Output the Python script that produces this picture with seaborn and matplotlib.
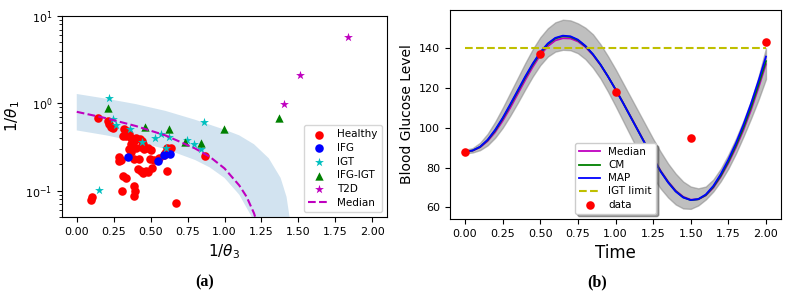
import numpy as np
import seaborn as sns
import matplotlib
matplotlib.use("Agg")
import matplotlib.pyplot as plt

# ---- panel (a): 1/theta3 vs 1/theta1 ----
healthy_x = [0.141, 0.209, 0.22, 0.232, 0.243, 0.322, 0.34, 0.31, 0.334, 0.368, 0.39, 0.425,
             0.443, 0.368, 0.356, 0.368, 0.40, 0.436, 0.48, 0.505, 0.288, 0.30, 0.284, 0.384,
             0.42, 0.497, 0.52, 0.61, 0.64, 0.61, 0.413, 0.436, 0.47, 0.447, 0.48, 0.51,
             0.31, 0.334, 0.307, 0.384, 0.397, 0.384, 0.106, 0.095, 0.675, 0.868, 0.59,
             0.455, 0.40, 0.355, 0.465, 0.60, 0.555, 0.45]
healthy_y = [0.68, 0.63, 0.576, 0.54, 0.52, 0.505, 0.48, 0.424, 0.424, 0.405, 0.372, 0.39,
             0.37, 0.34, 0.30, 0.28, 0.31, 0.318, 0.31, 0.29, 0.24, 0.224, 0.216, 0.23,
             0.23, 0.23, 0.224, 0.306, 0.31, 0.17, 0.177, 0.169, 0.169, 0.158, 0.162, 0.18,
             0.148, 0.14, 0.10, 0.114, 0.10, 0.088, 0.084, 0.079, 0.072, 0.25, 0.257,
             0.30, 0.40, 0.44, 0.31, 0.27, 0.235, 0.345]
ifg_x = [0.345, 0.55, 0.588, 0.63]
ifg_y = [0.244, 0.216, 0.257, 0.264]
igt_x = [0.215, 0.243, 0.266, 0.357, 0.443, 0.53, 0.573, 0.622, 0.602, 0.747, 0.793, 0.838, 0.863, 0.148]
igt_y = [1.14, 0.657, 0.566, 0.505, 0.362, 0.405, 0.45, 0.413, 0.31, 0.38, 0.34, 0.30, 0.617, 0.103]
ifgigt_x = [0.209, 0.463, 0.622, 0.731, 0.838, 0.999, 1.367]
ifgigt_y = [0.877, 0.537, 0.505, 0.365, 0.355, 0.505, 0.675]
t2d_x = [1.40, 1.511, 1.834]
t2d_y = [0.975, 2.1, 5.71]

med_x = [0, 0.2, 0.4, 0.6, 0.8, 0.9, 1.0, 1.1, 1.15, 1.2, 1.22]
med_y = [0.80, 0.675, 0.55, 0.43, 0.305, 0.245, 0.18, 0.115, 0.085, 0.055, 0.043]

band_up_x = [0, 0.2, 0.4, 0.6, 0.8, 1.0, 1.1, 1.2, 1.3, 1.38, 1.42, 1.46]
band_up_y = [1.28, 1.13, 0.98, 0.82, 0.65, 0.50, 0.43, 0.34, 0.235, 0.14, 0.085, 0.03]
band_lo_x = [0, 0.2, 0.4, 0.6, 0.8, 0.9, 1.0, 1.1, 1.2]
band_lo_y = [0.49, 0.43, 0.365, 0.30, 0.225, 0.185, 0.14, 0.09, 0.045]

# ---- panel (b): glucose curves ----
t = [0.0, 0.05, 0.1, 0.15, 0.2, 0.25, 0.3, 0.35, 0.4, 0.45, 0.5, 0.55, 0.6, 0.65, 0.7,
     0.75, 0.8, 0.85, 0.9, 0.95, 1.0, 1.05, 1.1, 1.15, 1.2, 1.25, 1.3, 1.35, 1.4, 1.45,
     1.5, 1.55, 1.6, 1.65, 1.7, 1.75, 1.8, 1.85, 1.9, 1.95, 2.0]
map_vals = [88.0, 88.6, 90.5, 94.0, 99.0, 105.0, 111.8, 118.8, 125.8, 132.3, 138.0, 142.4,
            145.2, 146.3, 146.0, 144.3, 141.2, 137.0, 131.8, 125.8, 119.3, 112.5, 105.5,
            98.5, 91.5, 84.5, 78.0, 72.5, 68.0, 65.0, 63.7, 64.2, 66.5, 70.8, 76.8, 84.0,
            92.2, 101.5, 112.0, 123.5, 135.8]
median_vals = [88.0, 88.5, 90.2, 93.3, 97.8, 103.5, 110.0, 117.0, 124.0, 130.6, 136.5, 141.0,
               143.9, 145.0, 144.9, 143.4, 140.6, 136.6, 131.6, 125.8, 119.4, 112.7, 105.8,
               98.8, 91.8, 85.0, 78.5, 73.0, 68.5, 65.4, 63.9, 64.1, 66.0, 69.8, 75.4, 82.2,
               90.0, 98.8, 108.8, 120.0, 132.0]
cm_vals = [88.0, 88.6, 90.4, 93.8, 98.6, 104.6, 111.3, 118.3, 125.3, 131.8, 137.5, 142.0,
           144.9, 146.0, 145.7, 144.0, 141.0, 136.9, 131.8, 125.8, 119.4, 112.6, 105.6,
           98.6, 91.6, 84.7, 78.2, 72.7, 68.2, 65.1, 63.7, 64.1, 66.2, 70.3, 76.0, 83.0,
           91.0, 100.0, 110.2, 121.5, 133.5]
band_upper = [89.0, 89.8, 92.5, 97.0, 103.0, 110.0, 117.5, 125.0, 132.5, 139.5, 145.5, 150.0,
              153.0, 154.3, 154.0, 152.5, 150.3, 147.0, 142.0, 136.0, 129.5, 122.5, 115.5,
              108.5, 101.5, 94.5, 88.0, 82.0, 77.0, 73.0, 70.5, 69.6, 70.5, 74.0, 79.5, 86.5,
              94.5, 103.5, 113.5, 125.5, 140.0]
band_lower = [87.2, 87.6, 88.8, 91.2, 95.0, 100.0, 106.0, 112.5, 119.3, 125.8, 131.5, 135.8,
              138.3, 139.2, 139.0, 137.5, 134.5, 130.2, 124.8, 118.2, 111.0, 103.5, 96.0,
              88.5, 81.5, 75.0, 69.5, 65.0, 61.5, 59.5, 59.3, 61.0, 64.0, 68.0, 73.2, 79.5,
              87.0, 95.5, 104.5, 114.0, 124.5]
igt_limit_t = [0.0, 2.0]
igt_limit = [140, 140]
data_t = [0.0, 0.5, 1.0, 1.5, 2.0]
data_g = [88, 137, 118, 95, 143]

ticks_x = [0, 0.25, 0.5, 0.75, 1.0, 1.25, 1.5, 1.75, 2.0]
ticks_x_lbl = ["0.00", "0.25", "0.50", "0.75", "1.00", "1.25", "1.50", "1.75", "2.00"]

fig = plt.figure(figsize=(7.99, 2.93), dpi=100)
W, H = 799, 293
ax1 = fig.add_axes([62 / W, 1 - 217 / H, 325 / W, 201 / H])
ax2 = fig.add_axes([450 / W, 1 - 219 / H, 331 / W, 209 / H])

# panel a
ax1.fill(band_up_x + band_lo_x[::-1], band_up_y + band_lo_y[::-1],
         color="C0", alpha=0.2, linewidth=0)
sns.scatterplot(x=healthy_x, y=healthy_y, color="r", marker="o", s=38, linewidth=0,
                label="Healthy", ax=ax1)
sns.scatterplot(x=ifg_x, y=ifg_y, color="b", marker="o", s=38, linewidth=0,
                label="IFG", ax=ax1)
sns.scatterplot(x=igt_x, y=igt_y, color="c", marker="*", s=45, linewidth=0,
                label="IGT", ax=ax1)
sns.scatterplot(x=ifgigt_x, y=ifgigt_y, color="g", marker="^", s=36, linewidth=0,
                label="IFG-IGT", ax=ax1)
sns.scatterplot(x=t2d_x, y=t2d_y, color="m", marker="*", s=45, linewidth=0,
                label="T2D", ax=ax1)
sns.lineplot(x=med_x, y=med_y, color="m", linestyle="--", linewidth=1.5,
             label="Median", ax=ax1)
ax1.set_yscale("log")
ax1.set_xlim(-0.1, 2.1)
ax1.set_ylim(0.05, 10)
ax1.set_xticks(ticks_x)
ax1.set_xticklabels(ticks_x_lbl)
ax1.tick_params(labelsize=8)
ax1.set_xlabel(r"$1/\theta_3$", fontsize=11)
ax1.set_ylabel(r"$1/\theta_1$", fontsize=11, labelpad=2)
ax1.legend(loc="lower right", fontsize=7.5, labelspacing=0.35)

# panel b
ax2.fill_between(t, band_lower, band_upper, color="gray", alpha=0.5)
sns.lineplot(x=t, y=median_vals, color="m", linewidth=1.3, label="Median", ax=ax2)
sns.lineplot(x=t, y=cm_vals, color="g", linewidth=1.3, label="CM", ax=ax2)
sns.lineplot(x=t, y=map_vals, color="b", linewidth=1.3, label="MAP", ax=ax2)
sns.lineplot(x=igt_limit_t, y=igt_limit, color="y", linestyle="--", linewidth=1.5,
             label="IGT limit", ax=ax2)
sns.scatterplot(x=data_t, y=data_g, color="r", s=38, linewidth=0, label="data",
                ax=ax2, zorder=3)
ax2.set_xlim(-0.1, 2.1)
ax2.set_ylim(54.2, 159.2)
ax2.set_xticks(ticks_x)
ax2.set_xticklabels(ticks_x_lbl)
ax2.set_yticks([60, 80, 100, 120, 140])
ax2.tick_params(labelsize=8)
ax2.set_xlabel("Time", fontsize=12)
ax2.set_ylabel("Blood Glucose Level", fontsize=10)
ax2.legend(loc="lower center", fontsize=7.5, labelspacing=0.3, shadow=True)

fig.text(205 / W, 1 - 282 / H, "(a)", ha="center", va="center", fontsize=11.5,
         fontweight="bold", family="Liberation Serif")
fig.text(597 / W, 1 - 282 / H, "(b)", ha="center", va="center", fontsize=11.5,
         fontweight="bold", family="Liberation Serif")

fig.savefig("out.png", dpi=100)
